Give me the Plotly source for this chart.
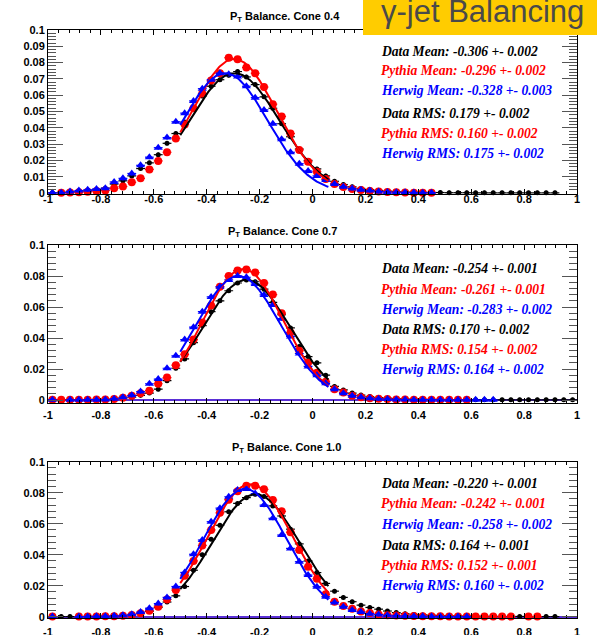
import numpy as np
import plotly.graph_objects as go

# ---------------- data ----------------
bin_centers = [-0.9833, -0.95, -0.9167, -0.8833, -0.85, -0.8167, -0.7833, -0.75, -0.7167, -0.6833,
               -0.65, -0.6167, -0.5833, -0.55, -0.5167, -0.4833, -0.45, -0.4167, -0.3833, -0.35,
               -0.3167, -0.2833, -0.25, -0.2167, -0.1833, -0.15, -0.1167, -0.0833, -0.05, -0.0167,
               0.0167, 0.05, 0.0833, 0.1167, 0.15, 0.1833, 0.2167, 0.25, 0.2833, 0.3167,
               0.35, 0.3833, 0.4167, 0.45, 0.4833, 0.5167, 0.55, 0.5833, 0.6167, 0.65,
               0.6833, 0.7167, 0.75, 0.7833, 0.8167, 0.85, 0.8833, 0.9167, 0.95, 0.9833]
half_bin = 1 / 60

# Cone 0.4
data_04 = [0.0001, 0.0003, 0.0006, 0.001, 0.0014, 0.002, 0.003, 0.0055, 0.0075, 0.0105,
           0.015, 0.0185, 0.0235, 0.0305, 0.0365, 0.0435, 0.0515, 0.0595, 0.0655, 0.0695,
           0.0722, 0.0745, 0.0712, 0.0665, 0.059, 0.052, 0.0425, 0.0345, 0.027, 0.020,
           0.0148, 0.0105, 0.0072, 0.0052, 0.0038, 0.0028, 0.0021, 0.0016, 0.0012, 0.0009,
           0.0007, 0.0005, 0.0004, 0.0003, 0.0003, 0.0002, 0.0002, 0.0002, 0.0001, 0.0001,
           0.0001, 0.0001, 0.0001, 0.0001, 0.0001, 0.0001, 0.0001, 0.0001, None, None]
pythia_04 = [None, 0.0001, 0.0003, 0.0005, 0.0008, 0.0012, 0.0016, 0.003, 0.004, 0.0066,
             0.009, 0.0145, 0.0197, 0.025, 0.0335, 0.042, 0.052, 0.061, 0.069, 0.0735,
             0.083, 0.082, 0.077, 0.0735, 0.065, 0.0545, 0.047, 0.0365, 0.0264, 0.0192,
             0.0131, 0.0086, 0.0055, 0.0037, 0.0025, 0.0018, 0.0013, 0.0009, 0.0006, 0.0004,
             0.0003, 0.0002, 0.0002, 0.0001, None, None, None, None, None, None,
             None, None, None, None, None, None, None, None, None, None]
herwig_04 = [0.0001, 0.0002, 0.001, 0.0015, 0.002, 0.0025, 0.003, 0.0068, 0.009, 0.012,
             0.017, 0.022, 0.0278, 0.034, 0.0437, 0.049, 0.0565, 0.064, 0.0695, 0.0735,
             0.0728, 0.0715, 0.0655, 0.0585, 0.051, 0.0425, 0.033, 0.025, 0.018, 0.0135,
             0.0105, 0.008, 0.0055, 0.0038, 0.0028, 0.002, 0.0015, 0.001, 0.0007, 0.0005,
             0.0004, 0.0003, 0.0002, 0.0002, None, None, None, None, None, None,
             None, None, None, None, None, None, None, None, None, None]

# Cone 0.7
data_07 = [0.0001, 0.0001, 0.0002, 0.0002, 0.0003, 0.0004, 0.0005, 0.0008, 0.0012, 0.0018,
           0.003, 0.0045, 0.007, 0.0125, 0.0205, 0.0265, 0.037, 0.048, 0.057, 0.064,
           0.0705, 0.0755, 0.0774, 0.0763, 0.0715, 0.063, 0.055, 0.0465, 0.0345, 0.028,
           0.024, 0.016, 0.0088, 0.0065, 0.0045, 0.0032, 0.0022, 0.0016, 0.0012, 0.0009,
           0.0007, 0.0006, 0.0005, 0.0004, 0.0004, 0.0003, 0.0003, 0.0002, 0.0002, 0.0002,
           0.0002, 0.0001, 0.0001, 0.0001, 0.0001, 0.0001, 0.0001, 0.0001, 0.0001, 0.0001]
pythia_07 = [0.0001, 0.0001, 0.0001, 0.0002, 0.0002, 0.0003, 0.0004, 0.0006, 0.0015, 0.0028,
             0.0043, 0.006, 0.0105, 0.0145, 0.0225, 0.0295, 0.039, 0.050, 0.061, 0.073,
             0.080, 0.0835, 0.0842, 0.0822, 0.0755, 0.068, 0.056, 0.0435, 0.0318, 0.024,
             0.0176, 0.0118, 0.0069, 0.0048, 0.0028, 0.0018, 0.0012, 0.0008, 0.0006, 0.0004,
             0.0003, 0.0002, 0.0002, 0.0002, 0.0001, 0.0001, 0.0001, 0.0001, None, None,
             None, None, None, None, None, None, None, None, None, None]
herwig_07 = [0.0001, None, 0.0001, 0.0001, 0.0002, 0.0002, 0.0003, 0.0008, 0.0018, 0.003,
             0.0055, 0.0105, 0.0135, 0.0205, 0.0285, 0.039, 0.047, 0.057, 0.0665, 0.073,
             0.0775, 0.080, 0.0792, 0.0748, 0.0678, 0.0613, 0.0525, 0.041, 0.030, 0.0217,
             0.016, 0.0108, 0.0069, 0.0043, 0.0028, 0.0018, 0.0012, 0.0008, 0.0006, 0.0004,
             0.0003, 0.0002, 0.0002, 0.0002, 0.0001, 0.0001, 0.0001, 0.0001, 0.0001, 0.0001,
             0.0001, None, None, None, None, None, None, None, None, None]

# Cone 1.0
data_10 = [0.0001, 0.0001, 0.0001, 0.0001, 0.0002, 0.0002, 0.0003, 0.0004, 0.0007, 0.0012,
           0.0022, 0.0035, 0.006, 0.0095, 0.0135, 0.0195, 0.030, 0.040, 0.050, 0.059,
           0.0677, 0.0731, 0.0768, 0.079, 0.0775, 0.0715, 0.065, 0.0565, 0.047, 0.036,
           0.0285, 0.0215, 0.0165, 0.0125, 0.0097, 0.0075, 0.006, 0.0049, 0.0037, 0.0027,
           0.002, 0.0015, 0.0012, 0.001, 0.0008, 0.0007, 0.0006, 0.0005, 0.0004, 0.0003,
           0.0003, 0.0002, 0.0002, 0.0002, 0.0001, 0.0001, 0.0001, 0.0001, None, None]
pythia_10 = [0.0001, None, None, 0.0001, 0.0002, 0.0002, 0.0003, 0.0004, 0.0006, 0.0011,
             0.0022, 0.0039, 0.0065, 0.0112, 0.0172, 0.0265, 0.036, 0.046, 0.056, 0.067,
             0.0755, 0.081, 0.0845, 0.0845, 0.0822, 0.0753, 0.068, 0.0545, 0.043, 0.0323,
             0.0245, 0.0145, 0.0097, 0.007, 0.0051, 0.0034, 0.0024, 0.0015, 0.001, 0.0008,
             0.0006, 0.0005, 0.0004, 0.0003, 0.0003, 0.0002, 0.0002, 0.0002, 0.0001, 0.0001,
             0.0001, 0.0001, 0.0001, None, 0.0001, 0.0001, None, None, None, None]
herwig_10 = [0.0001, None, None, 0.0001, 0.0002, 0.0003, 0.0004, 0.0006, 0.001, 0.0016,
             0.003, 0.0055, 0.0085, 0.0125, 0.0195, 0.0286, 0.0403, 0.0495, 0.0613, 0.070,
             0.0774, 0.0817, 0.0824, 0.0795, 0.072, 0.0635, 0.0527, 0.0441, 0.0355, 0.0269,
             0.0194, 0.0129, 0.0092, 0.0065, 0.0043, 0.003, 0.002, 0.0014, 0.001, 0.0007,
             0.0005, 0.0004, 0.0003, 0.0002, 0.0002, 0.0001, 0.0001, 0.0001, None, None,
             None, None, None, None, None, None, None, None, None, None]

# Gaussian fit parameters (amplitude, mean, sigma) for Data, Pythia, Herwig
fit_amp_04 = [0.0735, 0.0822, 0.0735]
fit_mean_04 = [-0.295, -0.296, -0.33]
fit_sigma_04 = [0.17, 0.162, 0.16]
fit_amp_07 = [0.0775, 0.0845, 0.080]
fit_mean_07 = [-0.25, -0.262, -0.28]
fit_sigma_07 = [0.165, 0.152, 0.16]
fit_amp_10 = [0.079, 0.0855, 0.0825]
fit_mean_10 = [-0.215, -0.235, -0.255]
fit_sigma_10 = [0.165, 0.16, 0.157]
fit_range = [-0.5, 0.06]

titles = ["P<sub>T</sub> Balance. Cone 0.4", "P<sub>T</sub> Balance. Cone 0.7",
          "P<sub>T</sub> Balance. Cone 1.0"]
stats_04 = ["Data Mean: -0.306 +- 0.002", "Pythia Mean: -0.296 +- 0.002",
            "Herwig Mean: -0.328 +- 0.003", "Data RMS: 0.179 +- 0.002",
            "Pythia RMS: 0.160 +- 0.002", "Herwig RMS: 0.175 +- 0.002"]
stats_07 = ["Data Mean: -0.254 +- 0.001", "Pythia Mean: -0.261 +- 0.001",
            "Herwig Mean: -0.283 +- 0.002", "Data RMS: 0.170 +- 0.002",
            "Pythia RMS: 0.154 +- 0.002", "Herwig RMS: 0.164 +- 0.002"]
stats_10 = ["Data Mean: -0.220 +- 0.001", "Pythia Mean: -0.242 +- 0.001",
            "Herwig Mean: -0.258 +- 0.002", "Data RMS: 0.164 +- 0.001",
            "Pythia RMS: 0.152 +- 0.001", "Herwig RMS: 0.160 +- 0.002"]
x_tick_vals = [-1, -0.8, -0.6, -0.4, -0.2, 0, 0.2, 0.4, 0.6, 0.8, 1]
x_tick_text = ["-1", "-0.8", "-0.6", "-0.4", "-0.2", "0", "0.2", "0.4", "0.6", "0.8", "1"]
y_tick_vals_top = [0, 0.01, 0.02, 0.03, 0.04, 0.05, 0.06, 0.07, 0.08, 0.09, 0.1]
y_tick_text_top = ["0", "0.01", "0.02", "0.03", "0.04", "0.05", "0.06", "0.07", "0.08", "0.09", "0.1"]
y_tick_vals = [0, 0.02, 0.04, 0.06, 0.08, 0.1]
y_tick_text = ["0", "0.02", "0.04", "0.06", "0.08", "0.1"]
banner_text = "γ-jet Balancing"

# ---------------- layout helpers ----------------
W, H = 597, 635
ML, MR = 48, 20
PW = W - ML - MR


def px_x(p):
    return (p - ML) / PW


def px_y(p):
    return 1 - p / H


colors = ["#000000", "#ff0000", "#0000ff"]
symbols = ["circle", "circle", "triangle-up"]
sizes = [5, 8, 8]

panels = [
    dict(series=[data_04, pythia_04, herwig_04], amp=fit_amp_04, mean=fit_mean_04, sig=fit_sigma_04,
         dom=[px_y(194), px_y(30)], rng=[-0.0006, 0.1], tv=y_tick_vals_top, tt=y_tick_text_top,
         minor=0.002, title_y=17, title_x=285, stats=stats_04, xstand=-5,
         stat_y=[51.7, 71, 90.3, 113.3, 133.3, 153.3]),
    dict(series=[data_07, pythia_07, herwig_07], amp=fit_amp_07, mean=fit_mean_07, sig=fit_sigma_07,
         dom=[px_y(402.5), px_y(245)], rng=[-0.0016, 0.1], tv=y_tick_vals, tt=y_tick_text,
         minor=0.004, title_y=232, title_x=282, stats=stats_07, xstand=2,
         stat_y=[268.3, 289, 309.3, 329.3, 349.3, 369.3]),
    dict(series=[data_10, pythia_10, herwig_10], amp=fit_amp_10, mean=fit_mean_10, sig=fit_sigma_10,
         dom=[px_y(618), px_y(461.7)], rng=[-0.0008, 0.1], tv=y_tick_vals, tt=y_tick_text,
         minor=0.004, title_y=448, title_x=286, stats=stats_10, xstand=4,
         stat_y=[483.3, 503.3, 524.3, 545, 565, 585]),
]

fig = go.Figure()
annotations = []
tickfont = dict(family="Liberation Sans, Arial", size=11, color="#000000", weight="bold")

for k, pn in enumerate(panels):
    xa = "x" if k == 0 else f"x{k+1}"
    ya = "y" if k == 0 else f"y{k+1}"
    # histogram points
    for s, ser in enumerate(pn["series"]):
        fig.add_trace(go.Scatter(
            x=bin_centers, y=ser, mode="markers", xaxis=xa, yaxis=ya,
            marker=dict(symbol=symbols[s], size=sizes[s], color=colors[s], line=dict(width=0)),
            error_x=dict(type="constant", value=half_bin, color=colors[s], thickness=1.2, width=0),
            error_y=dict(type="constant", value=0.0013, color=colors[s], thickness=1.2, width=0),
            cliponaxis=False, showlegend=False, hoverinfo="skip"))
    # gaussian fits
    xf = np.linspace(fit_range[0], fit_range[1], 150)
    for s in range(3):
        yf = pn["amp"][s] * np.exp(-0.5 * ((xf - pn["mean"][s]) / pn["sig"][s]) ** 2)
        fig.add_trace(go.Scatter(x=xf, y=yf, mode="lines", xaxis=xa, yaxis=ya,
                                 line=dict(color=colors[s], width=2),
                                 showlegend=False, hoverinfo="skip"))
    axis_x = dict(domain=[0, 1], anchor=ya, range=[-1, 1], showline=True, linecolor="#000000",
                  linewidth=1, mirror="ticks", ticks="inside", ticklen=5, tickcolor="#000000",
                  tickvals=x_tick_vals, ticktext=x_tick_text, tickfont=tickfont,
                  ticklabelstandoff=pn["xstand"], automargin=False,
                  showgrid=False, zeroline=False,
                  minor=dict(ticks="inside", ticklen=3, tick0=-1, dtick=0.04, tickcolor="#000000",
                             showgrid=False))
    axis_y = dict(domain=pn["dom"], anchor=xa, range=pn["rng"], showline=True, linecolor="#000000",
                  linewidth=1, mirror="ticks", ticks="inside", ticklen=15, tickcolor="#555555",
                  tickvals=pn["tv"], ticktext=pn["tt"], tickfont=tickfont, automargin=False,
                  showgrid=False, zeroline=True, zerolinecolor="#5a2fd6", zerolinewidth=1.5,
                  minor=dict(ticks="inside", ticklen=8, tick0=0, dtick=pn["minor"], tickcolor="#555555",
                             showgrid=False))
    fig.update_layout(**{("xaxis" if k == 0 else f"xaxis{k+1}"): axis_x,
                         ("yaxis" if k == 0 else f"yaxis{k+1}"): axis_y})
    annotations.append(dict(text="<b>" + titles[k] + "</b>", x=px_x(pn["title_x"]), y=px_y(pn["title_y"]),
                            xref="paper", yref="paper", xanchor="center", yanchor="middle",
                            showarrow=False, font=dict(family="Liberation Sans, Arial", size=11,
                                                       color="#000000")))
    for j, txt in enumerate(pn["stats"]):
        annotations.append(dict(text="<b><i>" + txt + "</i></b>", x=px_x(379), y=px_y(pn["stat_y"][j]),
                                xref="paper", yref="paper", xanchor="left", yanchor="middle",
                                showarrow=False,
                                font=dict(family="Liberation Serif, Times New Roman", size=13.6,
                                          color=colors[j % 3])))

annotations.append(dict(text=banner_text, x=px_x(379), y=px_y(11), xref="paper", yref="paper",
                        xanchor="left", yanchor="middle", showarrow=False,
                        font=dict(family="Liberation Sans, Arial", size=31, color="#4a4a4a")))

fig.update_layout(
    width=W, height=H, margin=dict(l=ML, r=MR, t=0, b=0, autoexpand=False),
    paper_bgcolor="#ffffff", plot_bgcolor="#ffffff",
    annotations=annotations,
    shapes=[dict(type="rect", xref="paper", yref="paper", x0=px_x(363), x1=px_x(600),
                 y0=px_y(35), y1=px_y(-3), fillcolor="#ffcc00", line=dict(width=0), layer="above")],
)

fig.write_html("out.html")
